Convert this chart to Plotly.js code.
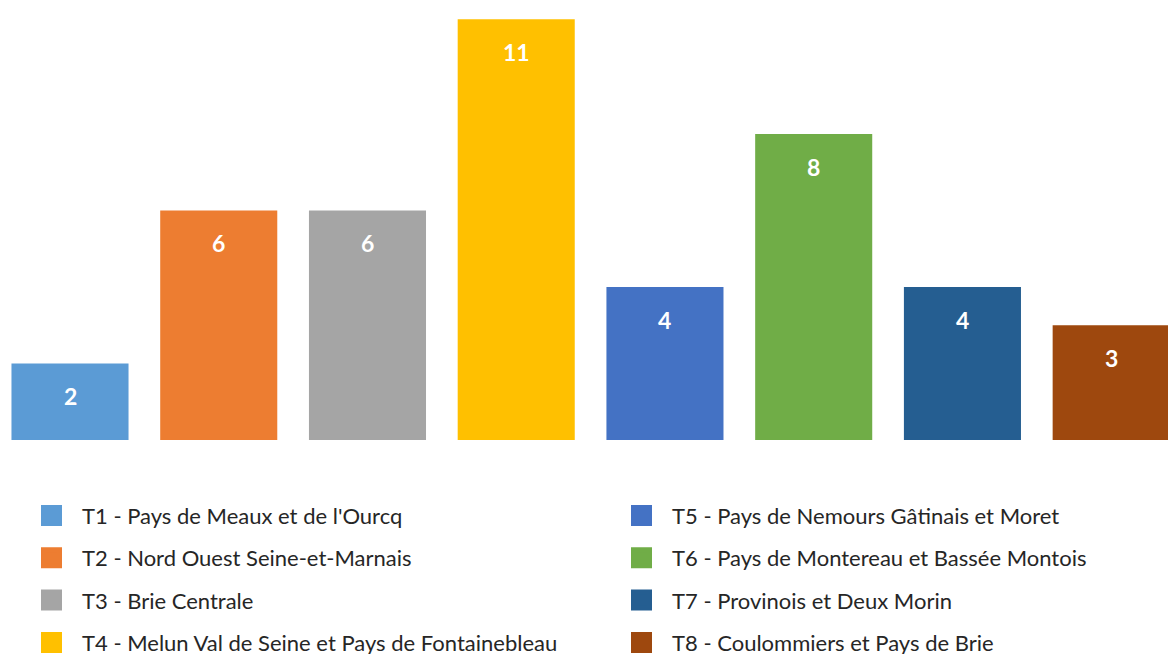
<!DOCTYPE html>
<html>
<head>
<meta charset="utf-8">
<script src="https://cdn.plot.ly/plotly-3.0.1.min.js"></script>
<style>
html,body{margin:0;padding:0;background:#fff;}
#chart{width:1168px;height:654px;}
</style>
</head>
<body>
<div id="chart"></div>
<script>
var codes = ['T1','T2','T3','T4','T5','T6','T7','T8'];
var names = [
  "T1 - Pays de Meaux et de l'Ourcq",
  "T2 - Nord Ouest Seine-et-Marnais",
  "T3 - Brie Centrale",
  "T4 - Melun Val de Seine et Pays de Fontainebleau",
  "T5 - Pays de Nemours Gâtinais et Moret",
  "T6 - Pays de Montereau et Bassée Montois",
  "T7 - Provinois et Deux Morin",
  "T8 - Coulommiers et Pays de Brie"
];
var values = [2, 6, 6, 11, 4, 8, 4, 3];
var palette = ['#5B9BD5','#ED7D31','#A5A5A5','#FFC000','#4472C4','#70AD47','#255E91','#9E480E'];

var FONT = 'Lato, "Noto Sans", sans-serif';

var traces = [{
  type: 'bar',
  x: codes,
  y: values,
  width: 0.787,
  marker: {color: palette},
  showlegend: false,
  hoverinfo: 'skip'
}];

names.forEach(function(n, i){
  traces.push({
    type: 'scatter',
    mode: 'markers',
    x: [null], y: [null],
    name: n,
    legend: i < 4 ? 'legend' : 'legend2',
    legendgroup: 'g' + i,
    marker: {symbol: 'square', size: 16, color: palette[i], line: {color: palette[i], width: 5}},
    hoverinfo: 'skip'
  });
});

var annotations = codes.map(function(c, i){
  return {
    x: c, y: values[i], xref: 'x', yref: 'y',
    text: String(values[i]), showarrow: false, yshift: -33,
    font: {family: FONT, size: 23, color: '#ffffff', weight: 'bold'}
  };
});

var legendBase = {
  orientation: 'v',
  xanchor: 'left', yanchor: 'top',
  y: -0.1243,
  itemwidth: 51,
  tracegroupgap: 10.7,
  traceorder: 'grouped',
  bgcolor: 'rgba(0,0,0,0)',
  font: {family: FONT, size: 22, color: '#262626'}
};

var layout = {
  width: 1168, height: 654,
  margin: {l: 0, r: 0, t: 0, b: 214, pad: 0, autoexpand: false},
  paper_bgcolor: '#ffffff', plot_bgcolor: '#ffffff',
  barmode: 'overlay',
  xaxis: {type: 'category', range: [-0.4706, 7.382], showticklabels: false, showgrid: false, zeroline: false, showline: false, fixedrange: true},
  yaxis: {range: [0, 11.5], showticklabels: false, showgrid: false, zeroline: false, showline: false, fixedrange: true},
  legend: Object.assign({}, legendBase, {x: 21/1168}),
  legend2: Object.assign({}, legendBase, {x: 611/1168}),
  annotations: annotations,
  showlegend: true
};

Plotly.newPlot('chart', traces, layout, {displayModeBar: false, staticPlot: true});
</script>
</body>
</html>
